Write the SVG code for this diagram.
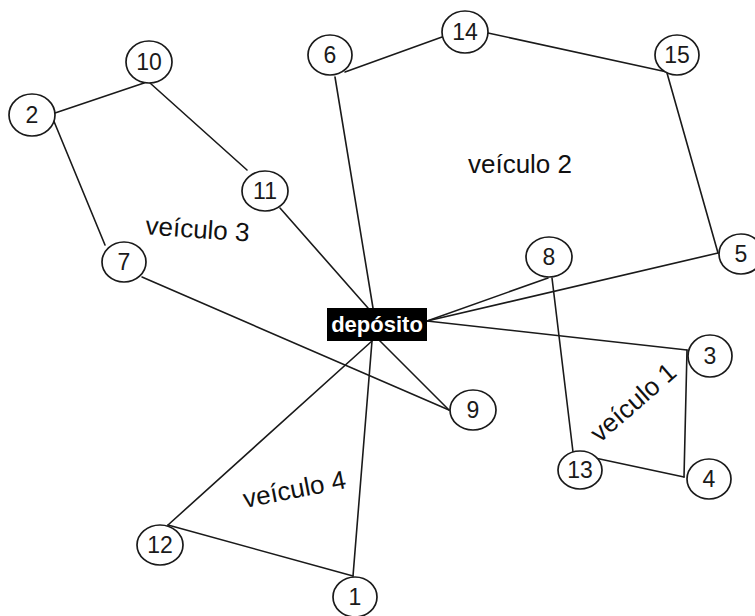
<svg xmlns="http://www.w3.org/2000/svg" width="755" height="616" viewBox="0 0 755 616">
  <style>
    .edge { stroke: #1a1a1a; stroke-width: 1.6; fill: none; stroke-linecap: round; }
    .node ellipse { fill: #fff; stroke: #1a1a1a; stroke-width: 1.7; }
    .node text { font-family: "Liberation Sans", Arial, sans-serif; font-size: 23px; fill: #1a1a1a; text-anchor: middle; }
    .route { font-family: "Liberation Sans", Arial, sans-serif; font-size: 26px; fill: #111; text-anchor: middle; }
    .depot-label { font-family: "Liberation Sans", Arial, sans-serif; font-size: 22px; font-weight: bold; fill: #fff; text-anchor: middle; }
  </style>
  <rect width="755" height="616" fill="#fff"/>

  <g id="connectors">
    <line class="edge" x1="55" y1="113" x2="144" y2="83"/>
    <line class="edge" x1="150" y1="83" x2="247" y2="170"/>
    <line class="edge" x1="53" y1="119" x2="105" y2="245"/>
    <line class="edge" x1="280" y1="208" x2="368" y2="308"/>
    <line class="edge" x1="142" y1="277" x2="449" y2="410"/>
    <line class="edge" x1="335" y1="77" x2="373" y2="308"/>
    <line class="edge" x1="345" y1="72" x2="442" y2="37"/>
    <line class="edge" x1="488" y1="33" x2="667" y2="72"/>
    <line class="edge" x1="667" y1="73" x2="718" y2="253"/>
    <line class="edge" x1="718" y1="253" x2="427" y2="321"/>
    <line class="edge" x1="548" y1="278" x2="427" y2="321"/>
    <line class="edge" x1="552" y1="278" x2="573" y2="452"/>
    <line class="edge" x1="427" y1="321" x2="687" y2="350"/>
    <line class="edge" x1="687" y1="350" x2="684" y2="477"/>
    <line class="edge" x1="684" y1="477" x2="595" y2="458"/>
    <line class="edge" x1="380" y1="341" x2="449" y2="410"/>
    <line class="edge" x1="372" y1="341" x2="168" y2="525"/>
    <line class="edge" x1="372" y1="341" x2="353" y2="576"/>
    <line class="edge" x1="168" y1="525" x2="353" y2="576"/>
  </g>

  <g id="depot">
    <rect x="327" y="308" width="100" height="33" fill="#000"/>
    <text class="depot-label" x="377" y="332">depósito</text>
  </g>

  <g id="n1" class="node"><ellipse cx="355" cy="597" rx="22" ry="20"/><text x="355" y="605">1</text></g>
  <g id="n2" class="node"><ellipse cx="32" cy="115" rx="23" ry="21"/><text x="32" y="123">2</text></g>
  <g id="n3" class="node"><ellipse cx="710" cy="356" rx="22" ry="21"/><text x="710" y="364">3</text></g>
  <g id="n4" class="node"><ellipse cx="709" cy="479" rx="22" ry="20"/><text x="709" y="487">4</text></g>
  <g id="n5" class="node"><ellipse cx="741" cy="254" rx="22" ry="20"/><text x="741" y="262">5</text></g>
  <g id="n6" class="node"><ellipse cx="330" cy="55" rx="22" ry="20"/><text x="330" y="63">6</text></g>
  <g id="n7" class="node"><ellipse cx="124" cy="262" rx="22" ry="20"/><text x="124" y="270">7</text></g>
  <g id="n8" class="node"><ellipse cx="549" cy="257" rx="23" ry="20"/><text x="549" y="265">8</text></g>
  <g id="n9" class="node"><ellipse cx="473" cy="410" rx="23" ry="20"/><text x="473" y="418">9</text></g>
  <g id="n10" class="node"><ellipse cx="149" cy="62" rx="23" ry="21"/><text x="149" y="70">10</text></g>
  <g id="n11" class="node"><ellipse cx="265" cy="191" rx="23" ry="20"/><text x="265" y="199">11</text></g>
  <g id="n12" class="node"><ellipse cx="160" cy="545" rx="23" ry="20"/><text x="160" y="553">12</text></g>
  <g id="n13" class="node"><ellipse cx="580" cy="470" rx="22" ry="19"/><text x="580" y="478">13</text></g>
  <g id="n14" class="node"><ellipse cx="465" cy="32" rx="23" ry="21"/><text x="465" y="40">14</text></g>
  <g id="n15" class="node"><ellipse cx="677" cy="55" rx="22" ry="20"/><text x="677" y="63">15</text></g>

  <g id="route-labels">
    <text class="route" x="520" y="173">veículo 2</text>
    <text class="route" transform="translate(197,238) rotate(4)">veículo 3</text>
    <text class="route" transform="translate(296,498) rotate(-11)">veículo 4</text>
    <text class="route" transform="translate(639,409) rotate(-41)">veículo 1</text>
  </g>
</svg>
